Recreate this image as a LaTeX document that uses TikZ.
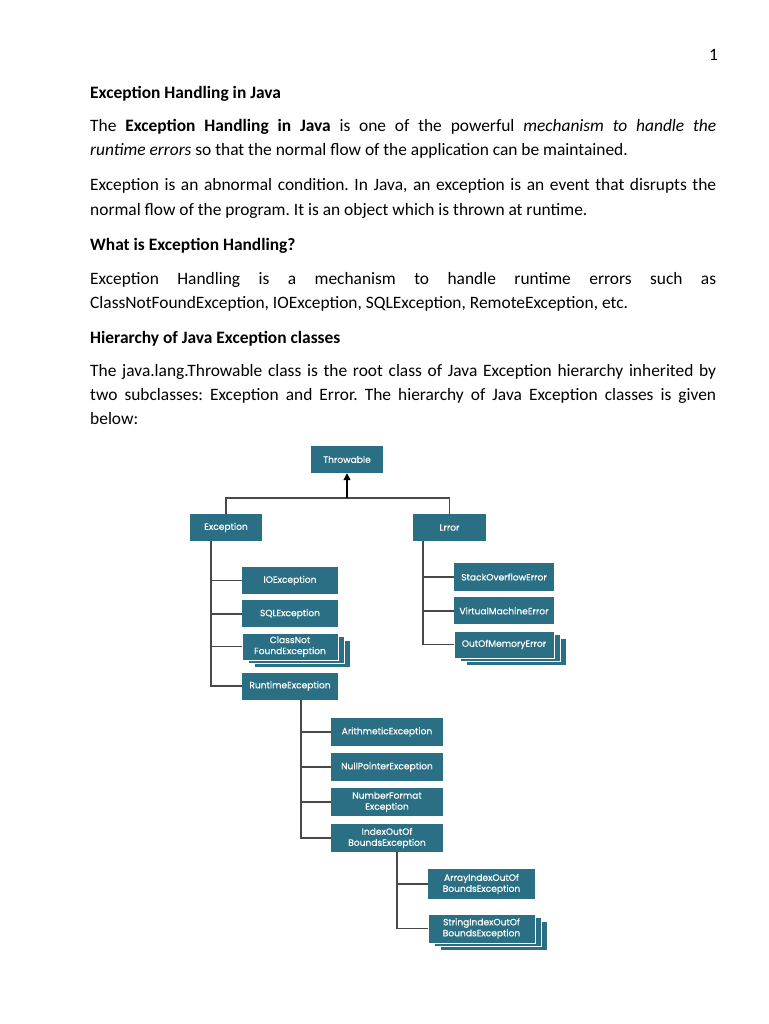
\documentclass[tikz,border=0pt]{standalone}
\usepackage{fontspec}
\setmainfont{Carlito}
\newfontfamily\boxfont[FakeBold=0.6]{Poppins}
\usetikzlibrary{arrows.meta, positioning, calc, shadows}
\definecolor{boxteal}{RGB}{42,111,131}
\definecolor{lngray}{RGB}{72,72,72}
\newcommand{\jline}[1]{\makebox[626pt][s]{#1}}
\frenchspacing
\tikzset{
  cls/.style = {fill=boxteal, text=white, align=center, inner sep=1pt,
                font=\boxfont\fontsize{9.1}{11}\selectfont, minimum height=27pt},
  stk/.style = {cls, draw=white, line width=0.7pt,
                double copy shadow={shadow xshift=6pt, shadow yshift=-3.5pt,
                fill=boxteal, draw=white, line width=0.7pt}},
  ln/.style  = {draw=lngray, line width=1.2pt},
  arr/.style = {ln, draw=black, -{Triangle[length=7pt, width=7pt]}},
  txt/.style = {anchor=base west, inner sep=0pt, font=\fontsize{17.4}{24}\selectfont},
  hd/.style  = {txt, font=\fontsize{17.4}{24}\selectfont\bfseries},
}
\begin{document}
\begin{tikzpicture}[x=1pt, y=-1pt]
\fill[white] (0,0) rectangle (768,1024);
\useasboundingbox (0,0) rectangle (768,1024);
% page text
\node[txt] (pg) at (709,61) {1};
\node[hd] (h1) at (90,99) {Exception Handling in Java};
\node[txt] (p1a) at (90,132) {\jline{The \textbf{Exception Handling in Java} is one of the powerful \textit{mechanism to handle the}}};
\node[txt] (p1b) at (90,156) {\textit{runtime errors} so that the normal flow of the application can be maintained.};
\node[txt] (p2a) at (90,191) {\jline{Exception is an abnormal condition. In Java, an exception is an event that disrupts the}};
\node[txt] (p2b) at (90,215) {normal flow of the program. It is an object which is thrown at runtime.};
\node[hd] (h2) at (90,250) {What is Exception Handling?};
\node[txt] (p3a) at (90,284) {\jline{Exception Handling is a mechanism to handle runtime errors such as}};
\node[txt] (p3b) at (90,308) {ClassNotFoundException, IOException, SQLException, RemoteException, etc.};
\node[hd] (h3) at (90,343) {Hierarchy of Java Exception classes};
\node[txt] (p4a) at (90,376) {\jline{The java.lang.Throwable class is the root class of Java Exception hierarchy inherited by}};
\node[txt] (p4b) at (90,400) {\jline{two subclasses: Exception and Error. The hierarchy of Java Exception classes is given}};
\node[txt] (p4c) at (90,424) {below:};
% hierarchy
\node[cls, minimum width=72pt] (thr) at (347,459.5) {Throwable};
\node[cls, minimum width=72pt] (exc) at (226,527.5) {Exception};
\node[cls, minimum width=73pt] (err) at (449.5,527.5) {Lrror};
\node[cls, minimum width=96pt] (ioe) at (290,580.5) {IOException};
\node[cls, minimum width=96pt, below=6pt of ioe] (sqe) {SQLException};
\node[stk, minimum width=96pt, below=5pt of sqe] (cnf) {ClassNot\\FoundException};
\node[cls, minimum width=96pt] (rte) at (290,686) {RuntimeException};
\node[cls, minimum width=100pt, minimum height=28pt] (soe) at (504,577) {StackOverflowError};
\node[cls, minimum width=100pt, below=6pt of soe] (vme) {VirtualMachineError};
\node[stk, minimum width=100pt, below=6pt of vme] (oom) {OutOfMemoryError};
\node[cls, minimum width=112pt, minimum height=28pt] (ari) at (387,732) {ArithmeticException};
\node[cls, minimum width=112pt, minimum height=28pt] (npe) at (387,767) {NullPointerException};
\node[cls, minimum width=112pt, minimum height=28pt] (nfe) at (387,802) {NumberFormat\\Exception};
\node[cls, minimum width=112pt, minimum height=28pt] (iob) at (387,838) {IndexOutOf\\BoundsException};
\node[cls, minimum width=107pt, minimum height=30pt] (aio) at (481.5,884) {ArrayIndexOutOf\\BoundsException};
\node[stk, minimum width=107pt, minimum height=29pt] (sio) at (481.5,928.5) {StringIndexOutOf\\BoundsException};
% connectors
\coordinate (jn) at (347,498);
\draw[ln] (exc.north) |- (jn) -| (err.north);
\draw[arr] (jn) -- (thr.south);
\coordinate (excT) at ([xshift=-15pt]exc.south);
\draw[ln] (excT) |- (rte.west);
\foreach \c in {ioe,sqe,cnf} \draw[ln] (excT |- \c.west) -- (\c.west);
\coordinate (errT) at ([xshift=-26.5pt]err.south);
\draw[ln] (errT) |- (oom.west);
\foreach \c in {soe,vme} \draw[ln] (errT |- \c.west) -- (\c.west);
\coordinate (rteT) at ([xshift=11pt]rte.south);
\draw[ln] (rteT) |- (iob.west);
\foreach \c in {ari,npe,nfe} \draw[ln] (rteT |- \c.west) -- (\c.west);
\coordinate (iobT) at ([xshift=10pt]iob.south);
\draw[ln] (iobT) |- (sio.west);
\draw[ln] (iobT |- aio.west) -- (aio.west);
\end{tikzpicture}
\end{document}
